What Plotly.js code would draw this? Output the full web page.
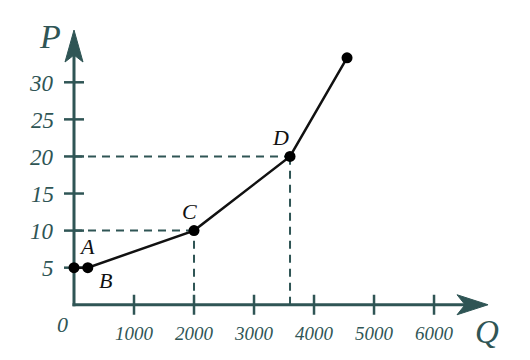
<!DOCTYPE html>
<html>
<head>
<meta charset="utf-8">
<script src="https://cdn.plot.ly/plotly-3.0.1.min.js"></script>
<style>html,body{margin:0;padding:0;background:#fff;}#chart{width:530px;height:360px;}</style>
</head>
<body>
<div id="chart"></div>
<script>
// Data
const pointNames = ['A', 'B', 'C', 'D', ''];
const quantity = [0, 230, 2000, 3600, 4550];
const price = [5, 5, 10, 20, 33.3];
const xTickVals = [1000, 2000, 3000, 4000, 5000, 6000];
const xTickText = ['1000', '2000', '3000', '4000', '5000', '6000'];
const yTickVals = [5, 10, 15, 20, 25, 30];
const yTickText = ['5', '10', '15', '20', '25', '30'];
const guideQ = [2000, 3600];
const guideP = [10, 20];

const teal = '#2f5555';
const serif = 'Liberation Serif, DejaVu Serif, serif';

const shapes = [];
// axes lines
shapes.push({type:'line', layer:'below', xref:'x', yref:'y', x0:-25, x1:6800, y0:0, y1:0, line:{color:teal, width:3}});
shapes.push({type:'line', layer:'below', xref:'x', yref:'y', x0:0, x1:0, y0:-0.2, y1:36, line:{color:teal, width:3}});
// arrowheads
shapes.push({type:'path', layer:'below', xref:'x', yref:'y', xsizemode:'pixel', ysizemode:'pixel', xanchor:6900, yanchor:0,
  path:'M0,0 L-31,10 L-23,0 L-31,-10 Z', fillcolor:teal, line:{color:teal, width:1}});
shapes.push({type:'path', layer:'below', xref:'x', yref:'y', xsizemode:'pixel', ysizemode:'pixel', xanchor:0, yanchor:37.05,
  path:'M0,0 L-9,-32 L0,-25 L9,-32 Z', fillcolor:teal, line:{color:teal, width:1}});
// ticks
xTickVals.forEach(v => shapes.push({type:'line', layer:'below', xref:'x', yref:'y', ysizemode:'pixel', yanchor:0,
  x0:v, x1:v, y0:-10, y1:10, line:{color:teal, width:2.5}}));
yTickVals.forEach(v => shapes.push({type:'line', layer:'below', xref:'x', yref:'y', xsizemode:'pixel', xanchor:0,
  x0:-10, x1:10, y0:v, y1:v, line:{color:teal, width:2.5}}));
// dashed guides
guideQ.forEach((q, i) => {
  shapes.push({type:'line', layer:'below', xref:'x', yref:'y', x0:0, x1:q, y0:guideP[i], y1:guideP[i], line:{color:teal, width:2, dash:'8px,6px'}});
  shapes.push({type:'line', layer:'below', xref:'x', yref:'y', x0:q, x1:q, y0:0, y1:guideP[i], line:{color:teal, width:2, dash:'8px,6px'}});
});

const annotations = [];
const tickFontX = {family:serif, size:19, style:'italic', color:teal};
const tickFontY = {family:serif, size:23, style:'italic', color:teal};
xTickVals.forEach((v, i) => annotations.push({x:v, y:0, xref:'x', yref:'y', text:xTickText[i], showarrow:false,
  yshift:-29, font:tickFontX}));
yTickVals.forEach((v, i) => annotations.push({x:0, y:v, xref:'x', yref:'y', text:yTickText[i], showarrow:false,
  xanchor:'right', xshift:-18, yshift:-1, font:tickFontY}));

const labelOffsets = {A:[13, 21], B:[18, -13], C:[-5, 19], D:[-10, 19]};
pointNames.forEach((n, i) => {
  if (!n) return;
  annotations.push({x:quantity[i], y:price[i], xref:'x', yref:'y', text:n, showarrow:false,
    xshift:labelOffsets[n][0], yshift:labelOffsets[n][1],
    font:{family:serif, size:22, style:'italic', color:'#111'}});
});
annotations.push({x:0, y:0, xref:'x', yref:'y', text:'0', showarrow:false, xshift:-12, yshift:-20,
  font:{family:serif, size:22, style:'italic', color:teal}});
annotations.push({x:0, y:37, xref:'x', yref:'y', text:'P', showarrow:false, xshift:-24, yshift:-6,
  font:{family:serif, size:34, style:'italic', color:teal}});
annotations.push({x:6900, y:0, xref:'x', yref:'y', text:'Q', showarrow:false, xshift:-1, yshift:-27,
  font:{family:serif, size:33, style:'italic', color:teal}});

const trace = {
  x: quantity, y: price, type:'scatter', mode:'lines+markers',
  line:{color:'#111', width:2.5},
  marker:{color:'#000', size:11},
  cliponaxis:false,
  hoverinfo:'skip'
};

const layout = {
  width:530, height:360,
  margin:{l:56, r:20, t:10, b:33},
  paper_bgcolor:'#fff', plot_bgcolor:'#fff',
  showlegend:false,
  xaxis:{range:[-300, 7266], showgrid:false, zeroline:false, showline:false,
    showticklabels:false, ticks:''},
  yaxis:{range:[-3.0, 39.75], showgrid:false, zeroline:false, showline:false,
    showticklabels:false, ticks:''},
  shapes: shapes,
  annotations: annotations
};

Plotly.newPlot('chart', [trace], layout, {staticPlot:true, displayModeBar:false});
</script>
</body>
</html>
